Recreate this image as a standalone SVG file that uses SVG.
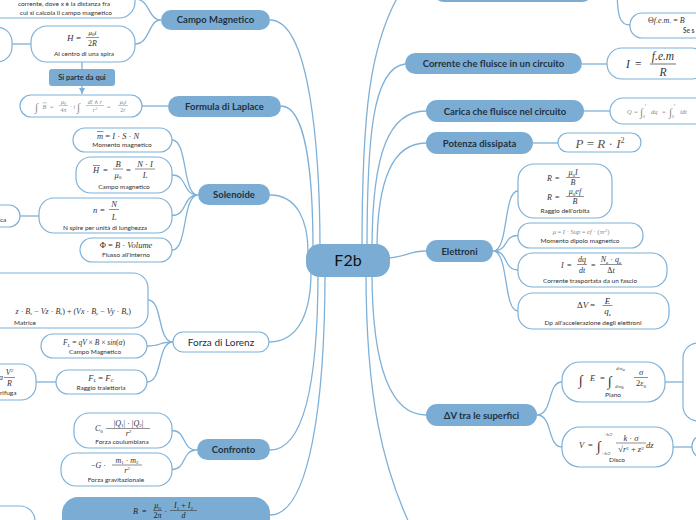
<svg xmlns="http://www.w3.org/2000/svg" width="696" height="520" viewBox="0 0 696 520">
<defs>
<style>
.b{fill:#7badd4}
.w{fill:#fff;stroke:#7fb1d8;stroke-width:1.2}
.c{fill:none;stroke:#7fb1d8;stroke-width:1.3}
.lb{font-family:Lato,"Open Sans",sans-serif;font-weight:bold;font-size:9.5px;fill:#22313f;text-anchor:middle}
.s{font-family:Lato,"Open Sans",sans-serif;font-size:6.5px;fill:#333;text-anchor:middle}
.m{font-family:"Liberation Serif","DejaVu Serif",serif;font-style:italic;font-size:8px;fill:#333}
.g{fill:#8a8a8a}
.n{font-style:normal}
.mid{text-anchor:middle}
.end{text-anchor:end}
.st{text-anchor:start}
.fl{stroke:#333;stroke-width:.55}
.flg{stroke:#8a8a8a;stroke-width:.5}
.sub{font-size:5px}
</style>
<marker id="ar" viewBox="0 0 6 6" markerWidth="6" markerHeight="6" refX="6" refY="3" orient="auto" markerUnits="userSpaceOnUse"><path d="M0,0L6,3L0,6z" fill="#7fb1d8"/></marker>
</defs>
<rect width="696" height="520" fill="#fff"/>
<g id="connectors" class="c">
<path d="M270,20C310,20 320,150 320,250"/>
<path d="M281,106C305,106 313,170 313,250"/>
<path d="M270,195C298,195 308,222 308,252"/>
<path d="M269,342C300,342 311,310 311,272"/>
<path d="M270,450C305,450 318,380 318,272"/>
<path d="M270,515C310,515 325,400 325,272"/>
<path d="M362,250C362,120 368,40 405,-15"/>
<path d="M367,250C367,140 372,68 405,64"/>
<path d="M372,250C372,150 390,111 426,111"/>
<path d="M377,250C377,175 395,143 426,143"/>
<path d="M385,258C405,258 408,251 426,251"/>
<path d="M372,272C372,370 392,415 426,415"/>
<path d="M366,272C366,390 380,470 420,545"/>
<path d="M617,-15C617,18 620,25 630,25"/>
<path d="M161,20C148,20 150,-1 135,-1M161,20C148,20 150,44 135,44"/>
<path d="M31,44H12"/>
<path d="M82,62V69"/>
<path d="M82,86V94" marker-end="url(#ar)"/>
<path d="M142,106H168"/>
<path d="M198,195C182,195 188,140 172,140M198,195C182,195 188,175 172,175M198,195C182,195 188,215.5 172,215.5M198,195C182,195 188,250 172,250"/>
<path d="M39,216H20"/>
<path d="M173,342C157,342 163,300 148,300M173,342C157,342 163,346 147,346M173,342C157,342 163,382 147,382"/>
<path d="M56,382H36"/>
<path d="M197,450C181,450 187,430.5 172,430.5M197,450C181,450 187,469.5 172,469.5"/>
<path d="M582,64H607"/>
<path d="M584,111H610"/>
<path d="M533,143H558"/>
<path d="M493,251C509,251 503,191 518,191M493,251C509,251 503,235.5 518,235.5M493,251C509,251 503,270 518,270M493,251C509,251 503,311 518,311"/>
<path d="M537,415C553,415 547,382 562,382M537,415C553,415 547,447 562,447"/>
<path d="M665,382H683"/>
<path d="M673,447H692"/>
</g>

<g id="campo-magnetico"><rect x="161" y="10" width="109" height="20" rx="10" class="b"/><text x="215.5" y="23.3" class="lb">Campo Magnetico</text></g>
<g id="campo-filo"><rect x="-20" y="-22" width="155" height="40" rx="16" class="w"/><text x="110" y="6" class="s end">corrente, dove x è la distanza fra</text><text x="112" y="14.5" class="s end">cui si calcola il campo magnetico</text></g>
<g id="h-left"><rect x="-30" y="27" width="42" height="35" rx="15" class="w"/></g>
<g id="h-spira">
<rect x="31" y="26" width="104" height="36" rx="16" class="w"/>
<g class="m">
<text x="67" y="41" style="font-size:9px">H</text>
<text x="76" y="41" class="n" style="font-size:9px">=</text>
<text x="92.5" y="35" class="mid" style="font-size:7px">μ<tspan class="sub" dy="1">0</tspan><tspan dy="-1">i</tspan></text>
<line x1="86" y1="37.5" x2="99" y2="37.5" class="fl"/>
<text x="92.5" y="45.5" class="mid" style="font-size:8px"><tspan class="n">2</tspan>R</text>
</g>
<text x="84" y="55.5" class="s">Al centro di una spira</text>
</g>
<g id="si-parte"><rect x="49" y="69" width="66" height="17" rx="3" class="b"/><text x="82" y="80.3" class="lb" style="font-size:7.5px">Si parte da qui</text></g>
<g id="laplace-formula">
<rect x="20" y="95" width="122" height="22" rx="11" class="w"/>
<g class="m g" style="font-size:6px">
<text x="35" y="111" class="n" style="font-size:11px">∫</text>
<text x="42.5" y="108.5">B</text>
<line x1="42.5" y1="102.8" x2="47" y2="102.8" class="flg"/>
<text x="50" y="108.5" class="n">=</text>
<text x="63.5" y="104" class="mid">μ<tspan style="font-size:4px" dy="1">0</tspan></text>
<line x1="59" y1="105.5" x2="68" y2="105.5" class="flg"/>
<text x="63.5" y="112" class="mid"><tspan class="n">4</tspan>π</text>
<text x="70" y="108.5" class="n">·</text>
<text x="73.5" y="108.5">i</text>
<text x="77" y="111" class="n" style="font-size:11px">∫</text>
<text x="95" y="104" class="mid">dl ∧ r</text>
<line x1="86" y1="105.5" x2="104" y2="105.5" class="flg"/>
<text x="95" y="112" class="mid">r<tspan style="font-size:4px" dy="-2">3</tspan></text>
<text x="107" y="108.5" class="n">=</text>
<text x="123" y="104" class="mid">μ<tspan style="font-size:4px" dy="1">0</tspan><tspan dy="-1">i</tspan></text>
<line x1="118" y1="105.5" x2="128" y2="105.5" class="flg"/>
<text x="123" y="112" class="mid"><tspan class="n">2</tspan>r</text>
</g>
</g>
<g id="formula-laplace"><rect x="168" y="96" width="113" height="21" rx="10.5" class="b"/><text x="224.5" y="110" class="lb">Formula di Laplace</text></g>

<g id="solenoide"><rect x="198" y="184" width="72" height="21" rx="10.5" class="b"/><text x="234" y="198" class="lb">Solenoide</text></g>
<g id="momento-magnetico">
<rect x="73" y="128" width="99" height="24" rx="12" class="w"/>
<text x="97" y="138.5" class="m" style="font-size:8.5px">m<tspan class="n"> = </tspan>I<tspan class="n"> · </tspan>S<tspan class="n"> · </tspan>N</text>
<line x1="97" y1="131.5" x2="103.5" y2="131.5" class="fl"/>
<text x="122" y="147" class="s">Momento magnetico</text>
</g>
<g id="campo-solenoide">
<rect x="76" y="157" width="96" height="36" rx="15" class="w"/>
<g class="m" style="font-size:8.5px">
<text x="93" y="172.5">H</text>
<line x1="93" y1="165.5" x2="100" y2="165.5" class="fl"/>
<text x="103" y="172.5" class="n">=</text>
<text x="118" y="166.5" class="mid">B</text>
<line x1="113" y1="169" x2="123" y2="169" class="fl"/>
<text x="118" y="177.5" class="mid">μ<tspan class="sub n" dy="1">0</tspan></text>
<text x="126" y="172.5" class="n">=</text>
<text x="145" y="166.5" class="mid">N<tspan class="n"> · </tspan>I</text>
<line x1="135" y1="169" x2="155" y2="169" class="fl"/>
<text x="145" y="177.5" class="mid">L</text>
</g>
<text x="124" y="188.5" class="s">Campo magnetico</text>
</g>
<g id="spire">
<rect x="39" y="198" width="133" height="35" rx="15" class="w"/>
<g class="m" style="font-size:8.5px">
<text x="93" y="213">n</text>
<text x="100" y="213" class="n">=</text>
<text x="114" y="206.5" class="mid">N</text>
<line x1="109" y1="209.5" x2="119" y2="209.5" class="fl"/>
<text x="114" y="219.5" class="mid">L</text>
</g>
<text x="105" y="229.5" class="s">N spire per unità di lunghezza</text>
</g>
<g id="flusso">
<rect x="80" y="238" width="92" height="24" rx="12" class="w"/>
<text x="126" y="248" class="m mid" style="font-size:8.5px"><tspan class="n">Φ = </tspan>B<tspan class="n"> · </tspan>Volume</text>
<text x="126" y="257" class="s">Flusso all'interno</text>
</g>
<g id="sol-left"><rect x="-30" y="205" width="50" height="22" rx="11" class="w"/><text x="0" y="222" class="s st">ca</text></g>

<g id="forza-lorenz"><rect x="173" y="332" width="96" height="20" rx="10" class="w"/><text x="221" y="345.5" class="lb" style="font-weight:normal;font-size:10px">Forza di Lorenz</text></g>
<g id="matrice">
<rect x="-30" y="273" width="178" height="55" rx="15" class="w"/>
<text x="131" y="313.5" class="m end" style="font-size:8px">z<tspan class="n"> · </tspan>B<tspan class="sub" dy="1.5">z</tspan><tspan dy="-1.5" class="n"> − </tspan>Vz<tspan class="n"> · </tspan>B<tspan class="sub" dy="1.5">z</tspan><tspan dy="-1.5" class="n">) + (</tspan>Vx<tspan class="n"> · </tspan>B<tspan class="sub" dy="1.5">y</tspan><tspan dy="-1.5" class="n"> − </tspan>Vy<tspan class="n"> · </tspan>B<tspan class="sub" dy="1.5">x</tspan><tspan dy="-1.5" class="n">)</tspan></text>
<text x="25" y="324.5" class="s">Matrice</text>
</g>
<g id="lorenz-campo">
<rect x="41" y="334" width="106" height="24" rx="12" class="w"/>
<text x="94" y="345" class="m mid" style="font-size:7.5px">F<tspan class="sub" dy="1.5">L</tspan><tspan dy="-1.5" class="n"> = </tspan>qV<tspan class="n"> × </tspan>B<tspan class="n"> × </tspan>sin<tspan class="n">(</tspan>α<tspan class="n">)</tspan></text>
<text x="95" y="354" class="s">Campo Magnetico</text>
</g>
<g id="raggio-traiettoria">
<rect x="56" y="370" width="91" height="24" rx="12" class="w"/>
<text x="101" y="380.5" class="m mid" style="font-size:8.5px">F<tspan class="sub" dy="1.5">L</tspan><tspan dy="-1.5" class="n"> = </tspan>F<tspan class="sub" dy="1.5">C</tspan></text>
<text x="101" y="390" class="s">Raggio traiettoria</text>
</g>
<g id="forza-centrifuga">
<rect x="-40" y="364" width="76" height="36" rx="15" class="w"/>
<g class="m" style="font-size:8px"><text x="-1" y="380">a</text>
<text x="9.5" y="375" class="mid">V<tspan style="font-size:5px" dy="-3">2</tspan></text>
<line x1="4" y1="377.5" x2="15" y2="377.5" class="fl"/>
<text x="9.5" y="385.5" class="mid">R</text></g>
<text x="0" y="394.5" class="s st">rifuga</text>
</g>

<g id="confronto"><rect x="197" y="439" width="73" height="21" rx="10.5" class="b"/><text x="233.5" y="453" class="lb">Confronto</text></g>
<g id="coulomb">
<rect x="74" y="413" width="98" height="35" rx="15" class="w"/>
<g class="m" style="font-size:8px">
<text x="95" y="431">C<tspan class="sub n" dy="1.5">0</tspan><tspan dy="-1.5" class="n"> ·</tspan></text>
<text x="128.5" y="425.5" class="mid"><tspan class="n">|</tspan>Q<tspan class="sub n" dy="1.5">1</tspan><tspan dy="-1.5" class="n">| · |</tspan>Q<tspan class="sub n" dy="1.5">2</tspan><tspan dy="-1.5" class="n">|</tspan></text>
<line x1="107" y1="428.5" x2="150" y2="428.5" class="fl"/>
<text x="128.5" y="436" class="mid">r<tspan style="font-size:5px" dy="-3">2</tspan></text>
</g>
<text x="122" y="443.5" class="s">Forza coulumbiana</text>
</g>
<g id="gravitazionale">
<rect x="61" y="453" width="111" height="33" rx="15" class="w"/>
<g class="m" style="font-size:8px">
<text x="91" y="468"><tspan class="n">−</tspan>G<tspan class="n"> ·</tspan></text>
<text x="127" y="462.5" class="mid">m<tspan class="sub n" dy="1.5">1</tspan><tspan dy="-1.5" class="n"> · </tspan>m<tspan class="sub n" dy="1.5">2</tspan></text>
<line x1="112" y1="465" x2="142" y2="465" class="fl"/>
<text x="127" y="473" class="mid">r<tspan style="font-size:5px" dy="-3">2</tspan></text>
</g>
<text x="116" y="481.5" class="s">Forza gravitazionale</text>
</g>
<g id="campo-due-fili">
<rect x="62" y="497" width="208" height="60" rx="16" class="b"/>
<g class="m" style="font-size:8px;fill:#222">
<text x="133" y="513.5">B</text>
<text x="142" y="513.5" class="n">=</text>
<text x="157.5" y="508" class="mid">μ<tspan class="sub n" dy="1.5">0</tspan></text>
<line x1="153" y1="510.5" x2="162" y2="510.5" class="fl"/>
<text x="157.5" y="518" class="mid"><tspan class="n">2</tspan>π</text>
<text x="164.5" y="513.5" class="n">·</text>
<text x="183.5" y="508" class="mid">I<tspan class="sub n" dy="1.5">1</tspan><tspan dy="-1.5" class="n"> + </tspan>I<tspan class="sub n" dy="1.5">2</tspan></text>
<line x1="170" y1="510.5" x2="197" y2="510.5" class="fl"/>
<text x="183.5" y="518" class="mid">d</text>
</g>
</g>
<g id="bottom-left"><rect x="-30" y="506" width="65" height="40" rx="15" class="w"/></g>

<g id="top-node"><rect x="433" y="-30" width="160" height="32" rx="11" class="b"/></g>
<g id="fem-theta">
<rect x="630" y="13" width="100" height="25" rx="12" class="w"/>
<text x="648" y="23" class="m" style="font-size:8px"><tspan class="n">Θ</tspan>f.e.m.<tspan class="n"> = </tspan>B</text>
<text x="683" y="33" class="s st" style="font-weight:bold;fill:#555">Se s</text>
</g>
<g id="corrente"><rect x="405" y="53" width="177" height="21" rx="10.5" class="b"/><text x="493.5" y="67" class="lb">Corrente che fluisce in un circuito</text></g>
<g id="i-fem">
<rect x="607" y="48" width="100" height="31" rx="15" class="w"/>
<g class="m" style="font-size:11.5px">
<text x="626" y="68">I</text>
<text x="635" y="68" class="n">=</text>
<text x="663" y="60" class="mid">f.e.m</text>
<line x1="650" y1="64" x2="676" y2="64" class="fl" style="stroke-width:.7"/>
<text x="663" y="76" class="mid">R</text>
</g>
</g>
<g id="carica"><rect x="426" y="100" width="158" height="22" rx="11" class="b"/><text x="505" y="114.5" class="lb">Carica che fluisce nel circuito</text></g>
<g id="q-carica">
<rect x="610" y="98" width="100" height="26" rx="13" class="w"/>
<g class="m g" style="font-size:6.5px">
<text x="627" y="113.5">Q</text>
<text x="634" y="113.5" class="n">=</text>
<text x="640" y="116" class="n" style="font-size:11px">∫</text>
<text x="645" y="106" style="font-size:4px">t</text>
<text x="643" y="118" style="font-size:4px">0</text>
<text x="651" y="113.5">dq</text>
<text x="662" y="113.5" class="n">=</text>
<text x="669" y="116" class="n" style="font-size:11px">∫</text>
<text x="674" y="106" style="font-size:4px">t</text>
<text x="672" y="118" style="font-size:4px">0</text>
<text x="680" y="113.5">idt</text>
</g>
</g>
<g id="potenza"><rect x="426" y="132" width="107" height="22" rx="11" class="b"/><text x="479.5" y="146.5" class="lb">Potenza dissipata</text></g>
<g id="p-potenza"><rect x="558" y="133" width="83" height="19" rx="9.5" class="w"/>
<text x="600" y="147.5" class="m mid" style="font-size:13px;fill:#555">P<tspan class="n"> = </tspan>R<tspan class="n"> · </tspan>I<tspan style="font-size:8px" dy="-5" class="n">2</tspan></text></g>

<g id="elettroni"><rect x="426" y="240" width="67" height="22" rx="11" class="b"/><text x="459.5" y="254.5" class="lb">Elettroni</text></g>
<g id="raggio-orbita">
<rect x="518" y="164" width="94" height="54" rx="16" class="w"/>
<g class="m" style="font-size:8px">
<text x="547" y="181">R</text><text x="555" y="181" class="n">=</text>
<text x="573" y="175" class="mid">μ<tspan class="sub n" dy="1.5">0</tspan><tspan dy="-1.5">I</tspan></text>
<line x1="566" y1="177.5" x2="580" y2="177.5" class="fl"/>
<text x="573" y="185" class="mid">B</text>
<text x="547" y="200">R</text><text x="555" y="200" class="n">=</text>
<text x="575" y="194" class="mid">μ<tspan class="sub n" dy="1.5">0</tspan><tspan dy="-1.5">ef</tspan></text>
<line x1="566" y1="196.5" x2="584" y2="196.5" class="fl"/>
<text x="575" y="204" class="mid">B</text>
</g>
<text x="565" y="213" class="s">Raggio dell'orbita</text>
</g>
<g id="momento-dipolo">
<rect x="518" y="223" width="125" height="25" rx="12" class="w"/>
<text x="581" y="234" class="m mid g" style="font-size:6.5px">μ<tspan class="n"> = </tspan>I<tspan class="n"> · </tspan>Sup<tspan class="n"> = </tspan>ef<tspan class="n"> · (</tspan>πr<tspan style="font-size:4px" dy="-2.5" class="n">2</tspan><tspan dy="2.5" class="n">)</tspan></text>
<text x="580" y="242.5" class="s">Momento dipolo magnetico</text>
</g>
<g id="corrente-fascio">
<rect x="518" y="253" width="149" height="34" rx="15" class="w"/>
<g class="m" style="font-size:8px">
<text x="561" y="268">I</text><text x="567" y="268" class="n">=</text>
<text x="582" y="262" class="mid">dq</text>
<line x1="577" y1="264.5" x2="587" y2="264.5" class="fl"/>
<text x="582" y="272.5" class="mid">dt</text>
<text x="591" y="268" class="n">=</text>
<text x="611" y="262" class="mid">N<tspan class="sub" dy="1.5">e</tspan><tspan dy="-1.5" class="n"> · </tspan>q<tspan class="sub" dy="1.5">e</tspan></text>
<line x1="600" y1="264.5" x2="622" y2="264.5" class="fl"/>
<text x="611" y="272.5" class="mid"><tspan class="n">Δ</tspan>t</text>
</g>
<text x="590" y="283" class="s">Corrente trasportata da un fascio</text>
</g>
<g id="dp-elettroni">
<rect x="518" y="293" width="151" height="36" rx="15" class="w"/>
<g class="m" style="font-size:9px">
<text x="577" y="308"><tspan class="n">Δ</tspan>V</text><text x="590" y="308" class="n">=</text>
<text x="607.5" y="303.5" class="mid">E</text>
<line x1="602.5" y1="305.5" x2="612.5" y2="305.5" class="fl"/>
<text x="607.5" y="314" class="mid">q<tspan class="sub" dy="1.5">e</tspan></text>
</g>
<text x="593" y="324.5" class="s">Dp all'accelerazione degli elettroni</text>
</g>

<g id="dv-superfici"><rect x="426" y="404" width="111" height="22" rx="11" class="b"/><text x="481.5" y="418.5" class="lb">ΔV tra le superfici</text></g>
<g id="piano">
<rect x="562" y="362" width="103" height="40" rx="18" class="w"/>
<g class="m" style="font-size:8.5px">
<text x="579" y="385" class="n" style="font-size:14px">∫</text>
<text x="590" y="381">E</text><text x="600" y="381" class="n">=</text>
<text x="608" y="386" class="n" style="font-size:14px">∫</text>
<text x="616" y="369.5" style="font-size:4.5px">dist<tspan dy="1">a</tspan></text>
<text x="615" y="388" style="font-size:4.5px">dist<tspan dy="1">b</tspan></text>
<text x="641" y="375" class="mid">σ</text>
<line x1="634" y1="377.5" x2="648" y2="377.5" class="fl"/>
<text x="641" y="386" class="mid"><tspan class="n">2</tspan>ε<tspan class="sub n" dy="1.5">0</tspan></text>
</g>
<text x="613" y="397" class="s">Piano</text>
</g>
<g id="disco">
<rect x="562" y="427" width="111" height="40" rx="18" class="w"/>
<g class="m" style="font-size:8.5px">
<text x="579" y="448">V</text><text x="588" y="448" class="n">=</text>
<text x="597" y="451" class="n" style="font-size:14px">∫</text>
<text x="604" y="436" style="font-size:4.5px"><tspan class="n">+</tspan>h/2</text>
<text x="602" y="455" style="font-size:4.5px"><tspan class="n">−</tspan>h/2</text>
<text x="631" y="440.5" class="mid">k<tspan class="n"> · </tspan>σ</text>
<line x1="616" y1="443" x2="646" y2="443" class="fl"/>
<text x="631" y="452" class="mid"><tspan class="n">√</tspan>r<tspan class="n" style="font-size:5px" dy="-2.5">2</tspan><tspan class="n" dy="2.5"> + </tspan>z<tspan class="n" style="font-size:5px" dy="-2.5">2</tspan></text>
<text x="646" y="448">dz</text>
</g>
<text x="617" y="462" class="s">Disco</text>
</g>
<g id="piano-child"><rect x="683" y="343" width="60" height="78" rx="15" class="w"/></g>
<g id="disco-child"><rect x="692" y="435" width="40" height="23" rx="11" class="w"/></g>

<g id="hub"><rect x="306" y="244" width="84" height="33" rx="14" class="b"/><text x="348" y="266" class="lb" style="font-size:16px;font-weight:normal;fill:#111">F2b</text></g>
</svg>
